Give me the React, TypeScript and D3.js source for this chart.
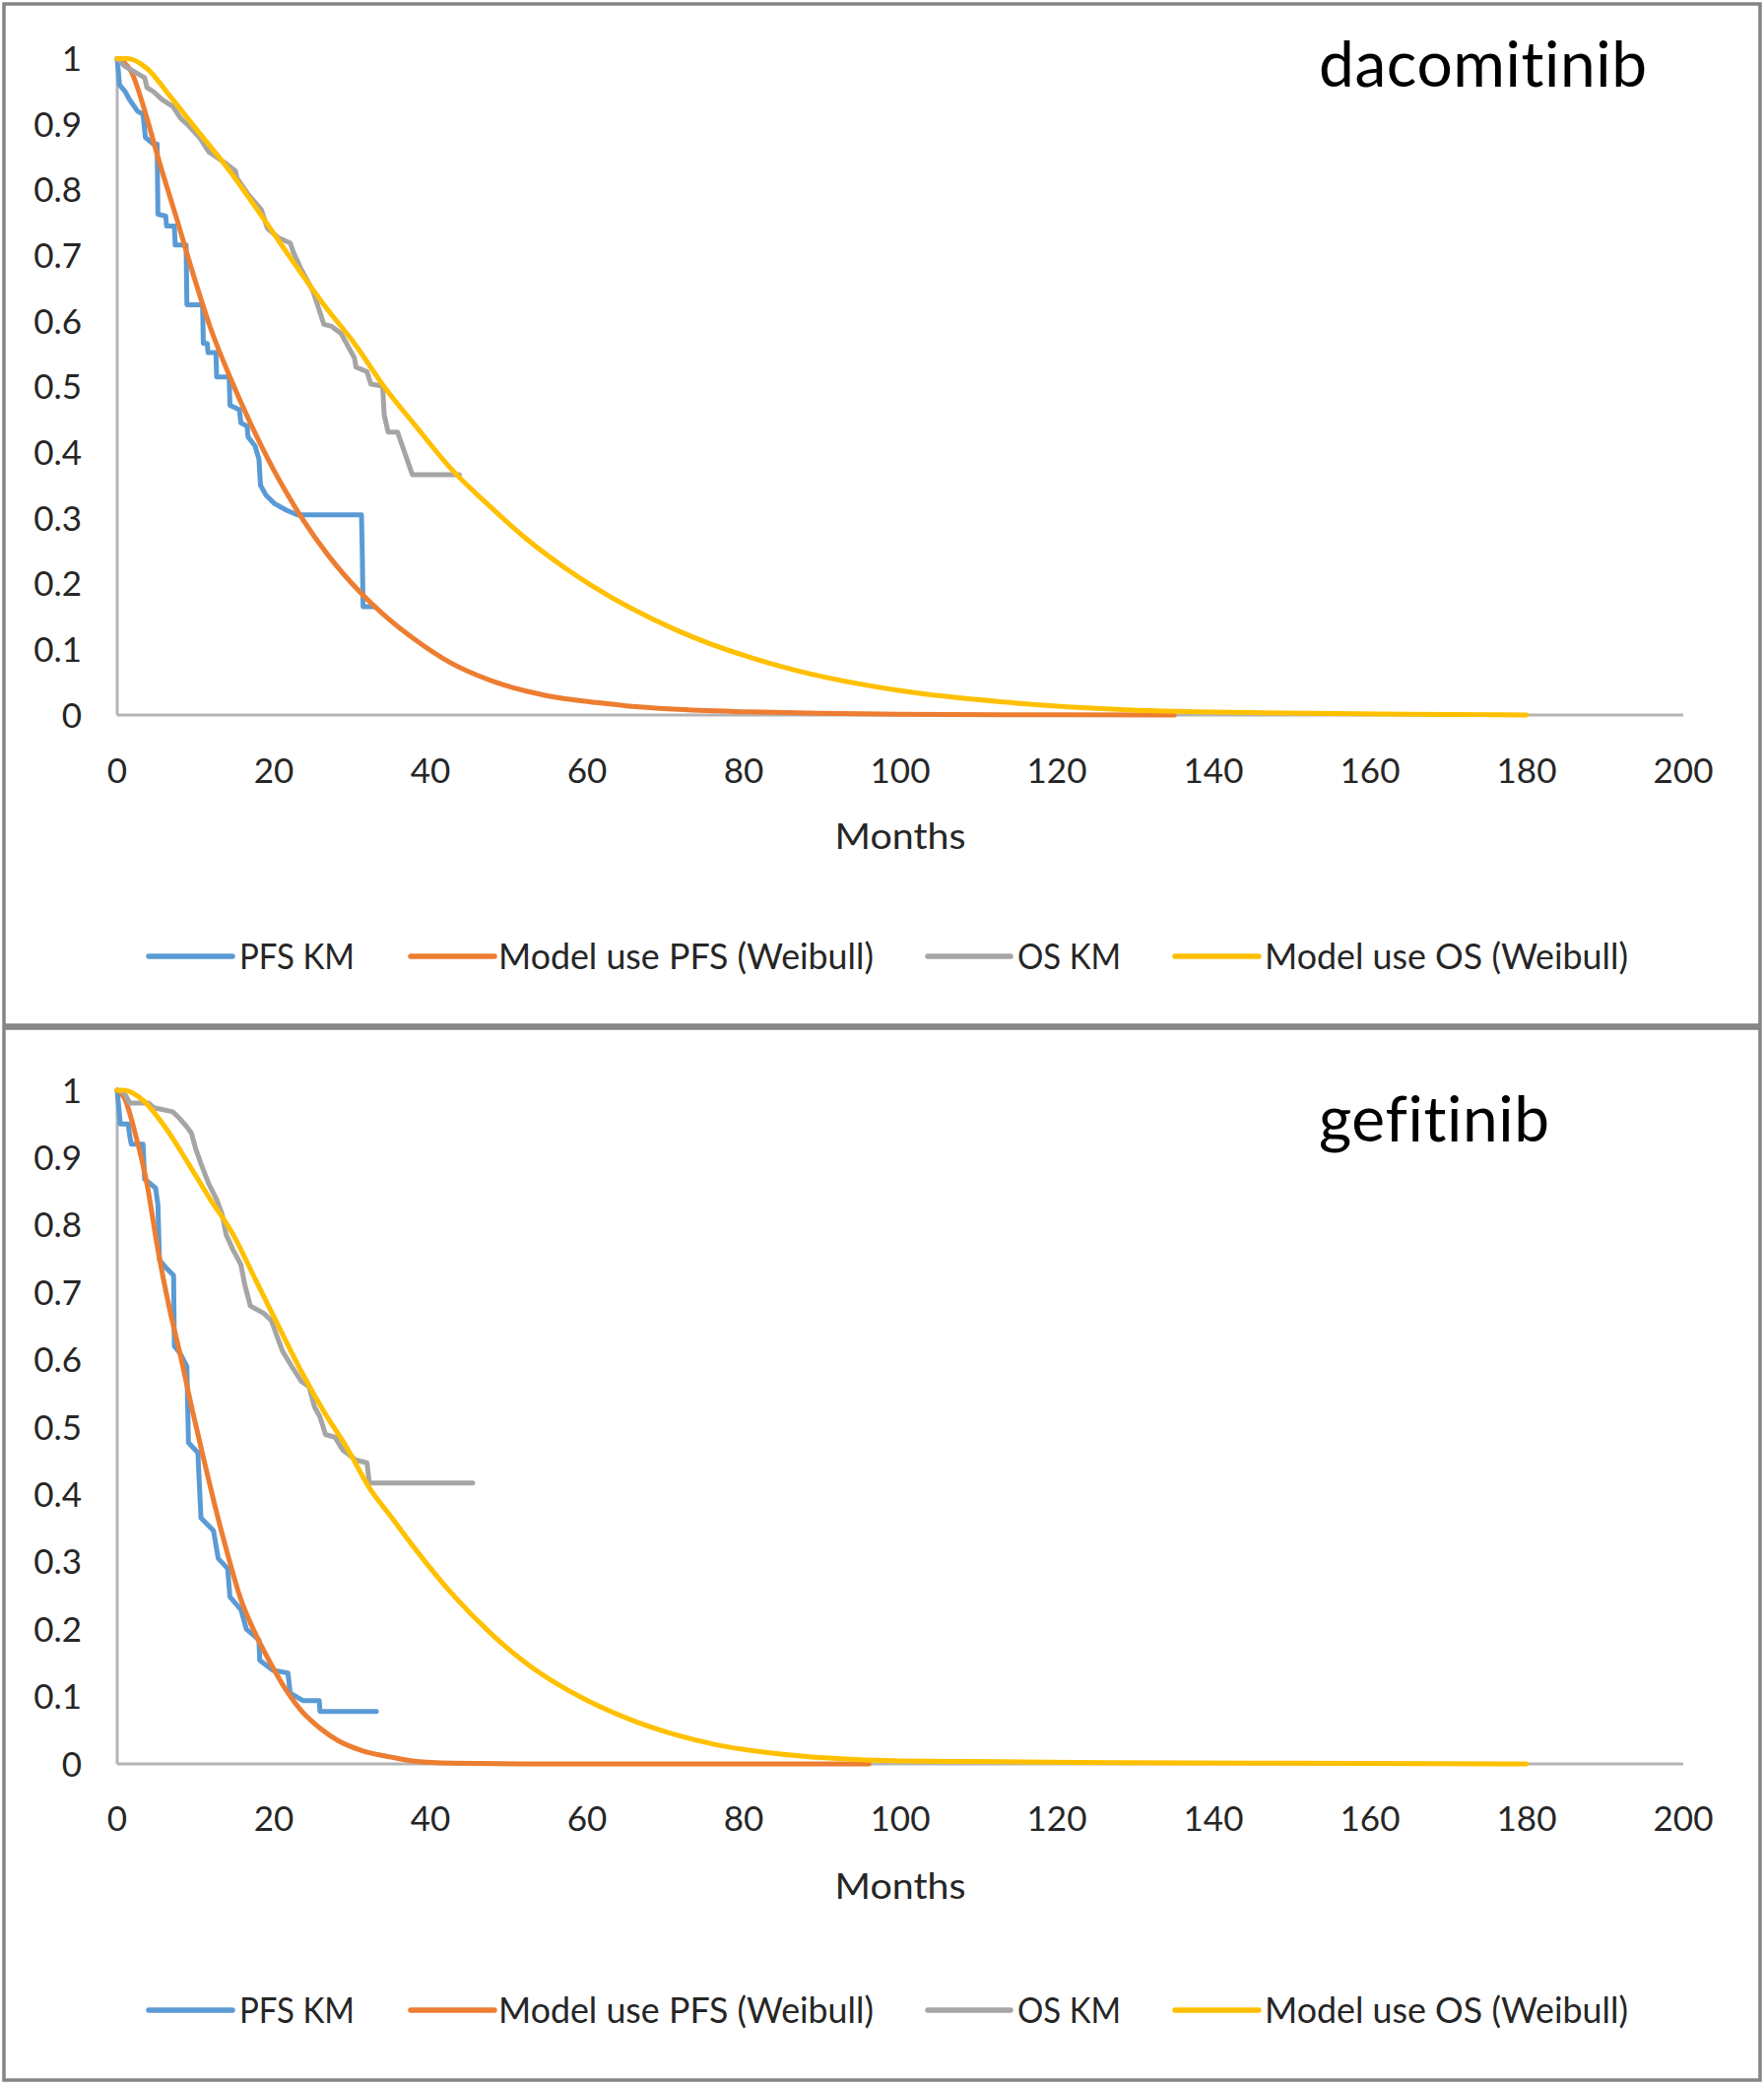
import React from "react";
import * as d3 from "d3";

// ---------- DATA ----------
const MONTH_TICKS = [0, 20, 40, 60, 80, 100, 120, 140, 160, 180, 200];
const SURV_TICKS = [0, 0.1, 0.2, 0.3, 0.4, 0.5, 0.6, 0.7, 0.8, 0.9, 1];
const SERIES_NAMES = ["PFS KM", "Model use PFS (Weibull)", "OS KM", "Model use OS (Weibull)"];
const PANEL_TITLES = ["dacomitinib", "gefitinib"];

// dacomitinib
const dacoPfsKm: [number, number][] = [
  [0, 1], [0.3, 0.96], [1.0, 0.95], [1.6, 0.937], [2.6, 0.92], [3.3, 0.915], [3.6, 0.88],
  [4.6, 0.87], [5.1, 0.87], [5.2, 0.763], [6.2, 0.76], [6.3, 0.745], [7.3, 0.745], [7.4, 0.716],
  [8.8, 0.716], [8.9, 0.625], [10.9, 0.625], [11.0, 0.566], [11.5, 0.566], [11.6, 0.552],
  [12.6, 0.552], [12.7, 0.515], [14.3, 0.515], [14.4, 0.472], [15.6, 0.465], [15.8, 0.445],
  [16.6, 0.44], [16.7, 0.424], [17.6, 0.41], [18.1, 0.39], [18.3, 0.35], [19.0, 0.335],
  [20.1, 0.322], [21.6, 0.312], [23.0, 0.305], [31.2, 0.305], [31.3, 0.245], [31.4, 0.165],
  [32.9, 0.165],
];
const dacoPfsModel: [number, number][] = [
  [0, 1], [1.8, 0.98], [3.8, 0.909], [5.2, 0.85], [7.6, 0.756], [10, 0.66], [11.9, 0.59],
  [14.4, 0.515], [16.8, 0.45], [18.7, 0.403], [20, 0.373], [21.6, 0.339], [23.7, 0.298],
  [26.9, 0.244], [31.2, 0.185], [34.5, 0.148], [38, 0.115], [42.5, 0.08], [47.6, 0.053],
  [52.4, 0.036], [57, 0.025], [60.5, 0.02], [65, 0.014], [71, 0.009], [80, 0.005], [90, 0.0025],
  [100, 0.001], [120, 0.0002], [135, 0],
];
const dacoOsKm: [number, number][] = [
  [0, 1], [0.9, 0.989], [3.5, 0.971], [3.8, 0.956], [4.7, 0.949], [5.7, 0.938], [7.1, 0.927],
  [8.1, 0.909], [9.1, 0.898], [10.5, 0.88], [11.7, 0.858], [13.9, 0.84], [15.1, 0.829],
  [15.3, 0.818], [16.8, 0.792], [18.4, 0.77], [18.7, 0.759], [19.2, 0.741], [20.6, 0.727],
  [22.1, 0.719], [22.5, 0.705], [23.5, 0.679], [25.0, 0.646], [26.4, 0.595], [27.4, 0.592],
  [28.6, 0.581], [30.3, 0.544], [30.5, 0.53], [31.9, 0.523], [32.4, 0.504], [33.9, 0.501],
  [34.1, 0.457], [34.6, 0.431], [35.8, 0.431], [37.7, 0.366], [43.7, 0.366],
];
const dacoOsModel: [number, number][] = [
  [0, 1], [1.3, 1], [3.8, 0.985], [6.6, 0.945], [10, 0.894], [13.9, 0.836], [18.7, 0.756],
  [22.5, 0.69], [26.4, 0.625], [30.3, 0.566], [34.1, 0.5], [38, 0.442], [42.8, 0.373],
  [47.6, 0.318], [52.4, 0.267], [57.2, 0.224], [60.5, 0.198], [71.3, 0.13], [85.7, 0.071],
  [100, 0.037], [114.5, 0.0185], [128.9, 0.008], [149, 0.003], [165, 0.001], [180, 0],
];

// gefitinib
const gefiPfsKm: [number, number][] = [
  [0, 1], [0.4, 0.95], [1.4, 0.95], [1.6, 0.932], [1.8, 0.92], [3.3, 0.92], [3.5, 0.868],
  [4.9, 0.855], [5.2, 0.83], [5.4, 0.748], [6.2, 0.737], [7.2, 0.725], [7.3, 0.62], [8.0, 0.61],
  [8.9, 0.59], [9.1, 0.477], [10.3, 0.462], [10.7, 0.365], [12.3, 0.346], [12.9, 0.305],
  [14.1, 0.29], [14.4, 0.248], [15.8, 0.229], [16.5, 0.2], [18.1, 0.184], [18.2, 0.154],
  [19.9, 0.139], [21.8, 0.135], [22.1, 0.105], [23.7, 0.094], [25.8, 0.094], [25.9, 0.078],
  [33.1, 0.078],
];
const gefiPfsModel: [number, number][] = [
  [0, 1], [0.9, 0.989], [2.3, 0.936], [3.8, 0.861], [5.2, 0.763], [6.6, 0.68], [8.1, 0.605],
  [9.5, 0.53], [11, 0.455], [12.4, 0.387], [13.9, 0.32], [15.8, 0.244], [17.7, 0.192],
  [19.7, 0.147], [21.6, 0.109], [23.5, 0.079], [25.9, 0.053], [28.3, 0.034], [31.2, 0.02],
  [35, 0.01], [38, 0.004], [42.8, 0.001], [52, 0], [96, 0],
];
const gefiOsKm: [number, number][] = [
  [0, 1], [0.9, 0.996], [1.6, 0.981], [4, 0.981], [4.7, 0.974], [7.1, 0.968], [7.9, 0.959],
  [8.8, 0.947], [9.5, 0.936], [10, 0.914], [10.7, 0.891], [11.7, 0.861], [12.7, 0.838],
  [13.4, 0.816], [13.9, 0.786], [14.8, 0.763], [15.8, 0.741], [16.3, 0.711], [17, 0.68],
  [18.7, 0.669], [19.7, 0.658], [20.4, 0.635], [21.1, 0.613], [22.3, 0.59], [23.5, 0.568],
  [24.5, 0.56], [25.2, 0.53], [25.9, 0.515], [26.6, 0.489], [27.8, 0.485], [28.8, 0.466],
  [30.5, 0.451], [31.9, 0.447], [32.2, 0.417], [45.4, 0.417],
];
const gefiOsModel: [number, number][] = [
  [0, 1], [0.9, 1], [3.3, 0.985], [6.2, 0.944], [9.1, 0.891], [11.9, 0.838], [14.8, 0.786],
  [17.7, 0.718], [20.6, 0.65], [23.5, 0.583], [26.4, 0.523], [29.3, 0.47], [32.2, 0.41],
  [35.1, 0.365], [38, 0.32], [42.8, 0.252], [47.6, 0.195], [52.4, 0.148], [56, 0.12],
  [59.9, 0.095], [65.5, 0.066], [71.1, 0.044], [76.7, 0.028], [82.3, 0.018], [88, 0.011],
  [93.6, 0.007], [103, 0.004], [129, 0.002], [150, 0.001], [180, 0],
];

const PANEL_SERIES = [
  [dacoPfsKm, dacoPfsModel, dacoOsKm, dacoOsModel],
  [gefiPfsKm, gefiPfsModel, gefiOsKm, gefiOsModel],
];

// ---------- STYLE / LAYOUT ----------
const W = 1791;
const H = 2117;
const COLORS = ["#5B9BD5", "#ED7D31", "#A5A5A5", "#FFC000"];
const SMOOTH = [false, true, false, true];
const FONT = "Lato, 'Open Sans', 'Liberation Sans', sans-serif";

const PANELS = [
  { box: [4, 4, 1783, 1037], yTop: 59.5, yBottom: 726, tickCy: 782, monthsCy: 849, legendCy: 971, titleBase: 88 },
  { box: [4, 1044, 1783, 1068], yTop: 1107, yBottom: 1791, tickCy: 1846, monthsCy: 1915, legendCy: 2041, titleBase: 1159 },
];
const LEGEND_LINES = [[151, 236], [417, 502], [942, 1026], [1193, 1278]];
const LEGEND_TEXT = [[243, 117], [506, 381], [1033, 105], [1284, 369]];

function Panel({ idx }: { idx: number }) {
  const p = PANELS[idx];
  const x = d3.scaleLinear().domain([0, 200]).range([119, 1709]);
  const y = d3.scaleLinear().domain([0, 1]).range([p.yBottom, p.yTop]);
  const series = PANEL_SERIES[idx];
  const [bx, by, bw, bh] = p.box;
  return (
    <g>
      <rect x={bx} y={by} width={bw} height={bh} fill="#ffffff" stroke="#858585" strokeWidth={3.5} />
      {/* axes */}
      <line x1={x(0)} x2={x(0)} y1={y(1)} y2={y(0)} stroke="#b4b4b4" strokeWidth={3} />
      <line x1={x(0)} x2={x(200)} y1={y(0)} y2={y(0)} stroke="#b4b4b4" strokeWidth={3} />
      {SURV_TICKS.map((v) => (
        <text key={"y" + v} x={83} y={y(v) + 12.6} textAnchor="end" fontSize={35} fill="#262626">
          {String(+v.toFixed(1))}
        </text>
      ))}
      {MONTH_TICKS.map((m) => (
        <text key={"x" + m} x={x(m)} y={p.tickCy + 12.6} textAnchor="middle" fontSize={35} fill="#262626">
          {m}
        </text>
      ))}
      <text x={x(100)} y={p.monthsCy + 13} textAnchor="middle" fontSize={36} fill="#262626" textLength={133} lengthAdjust="spacingAndGlyphs">
        Months
      </text>
      {/* series */}
      {series.map((data, i) => {
        const gen = d3
          .line<[number, number]>()
          .x((d) => x(d[0]))
          .y((d) => y(d[1]))
          .curve(SMOOTH[i] ? d3.curveMonotoneX : d3.curveLinear);
        return (
          <path key={"s" + i} d={gen(data) || ""} fill="none" stroke={COLORS[i]} strokeWidth={5} strokeLinejoin="round" strokeLinecap="round" />
        );
      })}
      {/* title (letter-spacing keeps the letters separate, as in the reference) */}
      <text x={1339} y={p.titleBase} fontSize={64} fill="#000000" letterSpacing={0.6}>
        {PANEL_TITLES[idx]}
      </text>
      {/* legend */}
      {SERIES_NAMES.map((name, i) => (
        <g key={"l" + i}>
          <line x1={LEGEND_LINES[i][0]} x2={LEGEND_LINES[i][1]} y1={p.legendCy} y2={p.legendCy} stroke={COLORS[i]} strokeWidth={5.5} strokeLinecap="round" />
          <text x={LEGEND_TEXT[i][0]} y={p.legendCy + 13} fontSize={36} fill="#262626" textLength={LEGEND_TEXT[i][1]} lengthAdjust="spacingAndGlyphs">
            {name}
          </text>
        </g>
      ))}
    </g>
  );
}

export default function App() {
  return (
    <svg
      width={W}
      height={H}
      viewBox={`0 0 ${W} ${H}`}
      style={{ position: "absolute", left: 0, top: 0, background: "#ffffff" }}
      fontFamily={FONT}
    >
      <rect x={0} y={0} width={W} height={H} fill="#ffffff" />
      <Panel idx={0} />
      <Panel idx={1} />
    </svg>
  );
}
